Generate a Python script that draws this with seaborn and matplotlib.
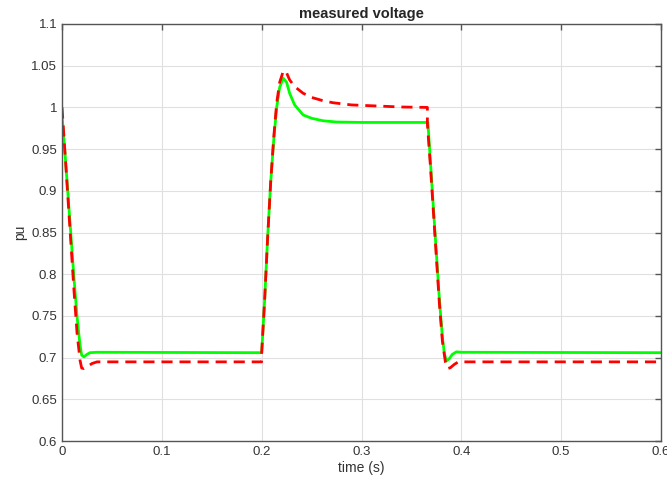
import seaborn as sns
import matplotlib.pyplot as plt
import pandas as pd
from matplotlib.ticker import FuncFormatter

# green (solid) trace
t_green = [0, 0.003, 0.006, 0.009, 0.012, 0.015, 0.018, 0.0197, 0.022, 0.025, 0.028, 0.035, 0.2,
           0.203, 0.206, 0.209, 0.212, 0.215, 0.218, 0.2215, 0.225, 0.228, 0.233, 0.2415, 0.25,
           0.2615, 0.275, 0.30, 0.3665,
           0.369, 0.372, 0.375, 0.378, 0.381, 0.383, 0.385, 0.388, 0.391, 0.395, 0.40, 0.6]
v_green = [0.99, 0.945, 0.895, 0.845, 0.795, 0.75, 0.715, 0.703, 0.701, 0.704, 0.706, 0.7065, 0.706,
           0.77, 0.845, 0.91, 0.96, 1.0, 1.024, 1.035, 1.03, 1.017, 1.003, 0.991, 0.987,
           0.984, 0.9825, 0.982, 0.982,
           0.935, 0.88, 0.825, 0.77, 0.725, 0.705, 0.696, 0.699, 0.704, 0.707, 0.7065, 0.706]

# red (dashed) trace
t_red = [0, 0.003, 0.006, 0.009, 0.012, 0.015, 0.018, 0.0197, 0.022, 0.025, 0.03, 0.035, 0.2,
         0.2, 0.203, 0.206, 0.209, 0.212, 0.215, 0.218, 0.2215, 0.224, 0.228, 0.233, 0.2415,
         0.25, 0.2615, 0.2715, 0.29, 0.31, 0.34, 0.366,
         0.366, 0.369, 0.372, 0.375, 0.378, 0.381, 0.384, 0.3865, 0.389, 0.393, 0.397, 0.6]
v_red = [1.0, 0.945, 0.89, 0.835, 0.78, 0.73, 0.697, 0.6875, 0.687, 0.689, 0.693, 0.695, 0.695,
         0.706, 0.77, 0.845, 0.91, 0.963, 1.005, 1.03, 1.043, 1.044, 1.033, 1.025, 1.017,
         1.012, 1.008, 1.0056, 1.003, 1.002, 1.0005, 1.0,
         0.98, 0.93, 0.875, 0.82, 0.765, 0.72, 0.695, 0.687, 0.688, 0.692, 0.695, 0.695]

x_ticks = [0, 0.1, 0.2, 0.3, 0.4, 0.5, 0.6]
y_ticks = [0.6, 0.65, 0.7, 0.75, 0.8, 0.85, 0.9, 0.95, 1.0, 1.05, 1.1]

sns.set_style("white")
plt.rcParams['font.family'] = ['Liberation Sans', 'DejaVu Sans']

fig = plt.figure(figsize=(6.67, 4.8), dpi=100)
ax = fig.add_axes([0.093, 0.081, 0.898, 0.869])

green = pd.DataFrame({'time': t_green, 'pu': v_green})
red = pd.DataFrame({'time': t_red, 'pu': v_red})
sns.lineplot(data=green, x='time', y='pu', ax=ax, color=(0, 1, 0), lw=2,
             sort=False, estimator=None)
sns.lineplot(data=red, x='time', y='pu', ax=ax, color=(1, 0, 0), lw=2,
             sort=False, estimator=None, linestyle=(0, (4, 2.5)))

ax.set_xlim(0, 0.6)
ax.set_ylim(0.6, 1.1)
ax.set_xticks(x_ticks)
ax.set_yticks(y_ticks)
ax.xaxis.set_major_formatter(FuncFormatter(lambda v, p: '%g' % round(v, 3)))
ax.yaxis.set_major_formatter(FuncFormatter(lambda v, p: '%g' % round(v, 3)))
ax.grid(True, color='#e0e0e0', lw=0.8)
ax.tick_params(direction='in', length=4, width=1, color='#555555', labelsize=9.5,
               labelcolor='#333333', top=True, right=True)
for s in ax.spines.values():
    s.set_color('#555555')
    s.set_linewidth(1)

ax.set_title('measured voltage', fontsize=10.5, fontweight='bold', pad=4)
ax.set_xlabel('time (s)', fontsize=10, color='#333333', labelpad=2)
ax.set_ylabel('pu', fontsize=10, color='#333333', labelpad=3)

plt.savefig('out.png', dpi=100)
